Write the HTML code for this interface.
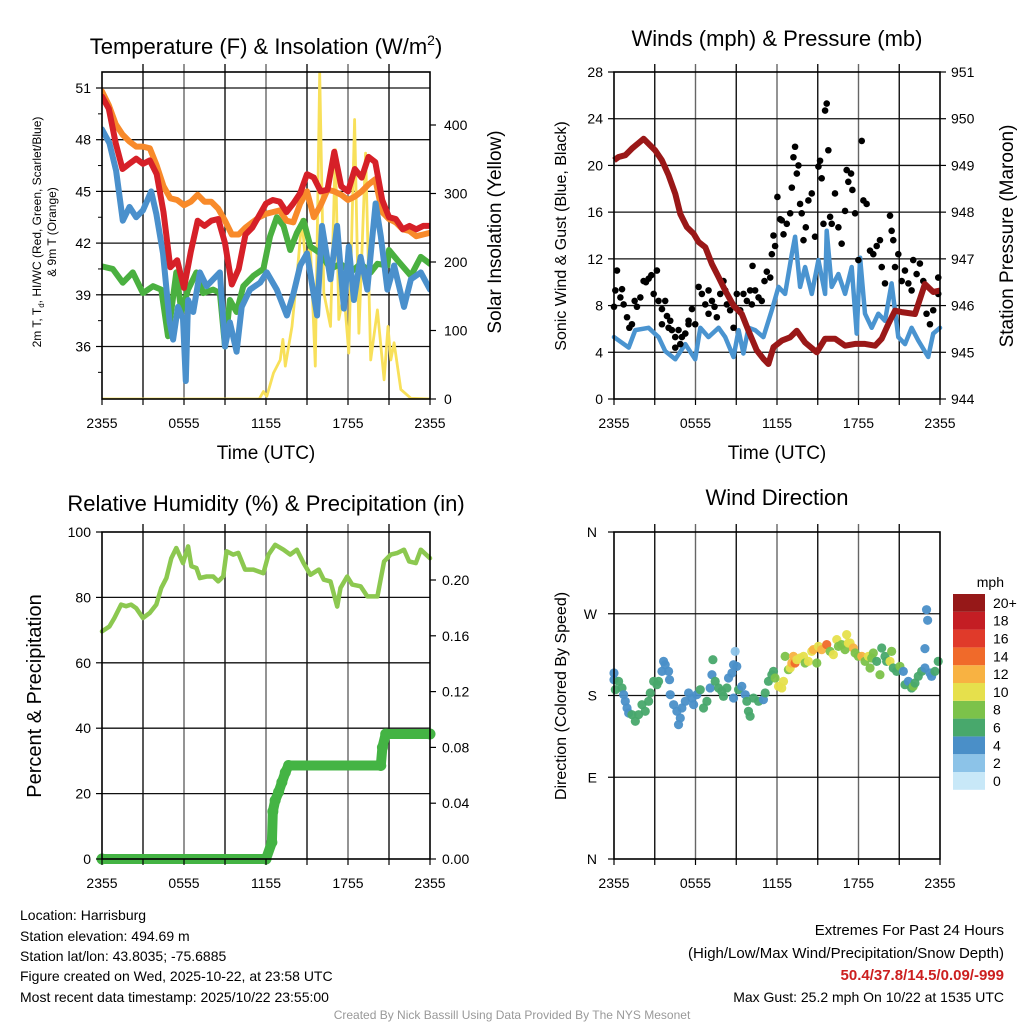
<!DOCTYPE html>
<html><head><meta charset="utf-8"><style>
html,body{margin:0;padding:0;background:#fff;}
svg{display:block;font-family:"Liberation Sans",sans-serif;}
</style></head><body>
<svg id="chart" width="1024" height="1024" viewBox="0 0 1024 1024" xmlns="http://www.w3.org/2000/svg">
<text x="266" y="54" font-size="22" text-anchor="middle">Temperature (F) &amp; Insolation (W/m<tspan font-size="14" dy="-9">2</tspan><tspan dy="9">)</tspan></text>
<text x="777" y="46" font-size="22" text-anchor="middle">Winds (mph) &amp; Pressure (mb)</text>
<text x="266" y="511" font-size="22" text-anchor="middle">Relative Humidity (%) &amp; Precipitation (in)</text>
<text x="777" y="505" font-size="22" text-anchor="middle">Wind Direction</text>

<text x="266" y="459" font-size="19" text-anchor="middle">Time (UTC)</text>
<text x="777" y="459" font-size="19" text-anchor="middle">Time (UTC)</text>

<text transform="translate(41,232) rotate(-90)" font-size="12" text-anchor="middle">2m T, T<tspan font-size="8" dy="3">d</tspan><tspan dy="-3">, HI/WC (Red, Green, Scarlet/Blue)</tspan></text>
<text transform="translate(56,232) rotate(-90)" font-size="12" text-anchor="middle">&amp; 9m T (Orange)</text>
<text transform="translate(501,232) rotate(-90)" font-size="19" text-anchor="middle">Solar Insolation (Yellow)</text>
<text transform="translate(566,236) rotate(-90)" font-size="16" text-anchor="middle">Sonic Wind &amp; Gust (Blue, Black)</text>
<text transform="translate(1013,236) rotate(-90)" font-size="19" text-anchor="middle">Station Pressure (Maroon)</text>
<text transform="translate(41,696) rotate(-90)" font-size="20" text-anchor="middle">Percent &amp; Precipitation</text>
<text transform="translate(566,696) rotate(-90)" font-size="16" text-anchor="middle">Direction (Colored By Speed)</text>
<text x="1004" y="587" font-size="14" text-anchor="end">mph</text>

<g font-size="14">
<text x="20" y="920">Location: Harrisburg</text>
<text x="20" y="941">Station elevation: 494.69 m</text>
<text x="20" y="961">Station lat/lon: 43.8035; -75.6885</text>
<text x="20" y="981">Figure created on Wed, 2025-10-22, at 23:58 UTC</text>
<text x="20" y="1002">Most recent data timestamp: 2025/10/22 23:55:00</text>
</g>
<g font-size="15" text-anchor="end">
<text x="1004" y="935">Extremes For Past 24 Hours</text>
<text x="1004" y="958">(High/Low/Max Wind/Precipitation/Snow Depth)</text>
<text x="1004" y="980" fill="#cc1f1f" font-weight="bold">50.4/37.8/14.5/0.09/-999</text>
<text x="1004" y="1002" font-size="14">Max Gust: 25.2 mph On 10/22 at 1535 UTC</text>
</g>
<text x="512" y="1019" font-size="12" fill="#999" text-anchor="middle">Created By Nick Bassill Using Data Provided By The NYS Mesonet</text>
<g id="plots"></g>
</svg>
<script>
// ---- Temperature panel data (hours since 2355 UTC) ----
const tHalf = [0,0.5,1,1.5,2,2.5,3,3.5,4,4.5,5,5.5,6,6.5,7,7.5,8,8.5,9,9.5,10,10.5,11,11.5,12,12.5,13,13.5,14,14.5,15,15.5,16,16.5,17,17.5,18,18.5,19,19.5,20,20.5,21,21.5,22,22.5,23,23.5,24];
const tempRed = [50.5,49.8,47.8,46.3,46.6,46.9,46.6,46.8,46.0,43.8,40.6,41.0,39.4,41.5,43.3,43.0,43.3,43.4,42.0,39.6,40.5,42.5,42.9,43.6,44.3,44.5,44.4,43.8,44.3,44.9,46.0,45.8,45.0,45.1,47.3,45.3,45.0,46.3,45.8,47.0,46.7,44.5,43.5,43.4,42.8,43.0,42.8,43.0,43.0];
const temp9m = [50.8,50.0,48.9,48.3,47.9,47.6,47.6,47.5,46.5,45.3,44.6,44.5,44.2,44.4,44.8,44.4,44.4,44.0,43.3,42.5,42.5,42.9,43.2,43.5,43.7,43.8,43.9,43.3,43.2,44.3,45.0,43.5,44.2,45.1,45.0,44.8,44.5,44.7,45.0,45.4,45.7,43.8,43.4,43.2,42.8,42.7,42.4,42.5,42.6];
const tBlue = [0,0.54,1.03,1.52,2.01,2.5,2.99,3.6,3.97,4.46,4.95,5.2,5.56,5.93,6.13,6.3,6.67,7.16,7.65,8.14,8.63,9.0,9.36,9.85,10.22,10.83,11.57,12.06,12.79,13.53,14.02,14.5,15.0,15.74,16.1,16.72,17.2,17.7,18.06,18.43,18.92,19.41,20.02,20.4,20.88,21.37,22.1,22.6,23.33,24];
const tempBlue = [48.6,47.8,46.2,43.3,44.1,43.5,43.9,45.0,43.7,41.4,37.4,36.4,38.3,37.6,34.0,38.7,38.0,40.3,39.5,39.9,40.3,36.0,37.4,35.7,38.3,39.3,39.7,40.3,39.3,37.8,39.1,40.7,41.4,37.8,43.0,39.9,43.0,38.2,41.8,38.7,41.2,39.3,44.3,42.4,39.3,40.7,38.3,39.9,40.3,39.3];
const tGreen = [0,0.78,1.52,2.25,2.99,3.73,4.34,4.83,5.44,5.81,6.3,6.91,7.4,8.14,8.63,9.0,9.36,9.85,10.34,11.08,11.81,12.3,12.79,13.28,13.77,14.26,14.75,15.25,15.98,16.72,17.45,18.19,18.92,19.66,20.15,20.88,21.0,21.62,22.6,23.33,24];
const tempGreen = [40.65,40.5,39.7,40.3,39.1,39.5,39.3,36.6,40.3,38.0,39.3,40.3,39.1,39.3,39.1,36.0,38.7,38.0,39.5,40.1,40.5,42.4,43.5,43.0,41.6,42.6,43.3,41.8,41.4,40.5,40.8,40.3,40.8,40.3,40.8,40.7,41.6,41.0,40.1,41.2,40.8];
const tSolar = [0,11.5,11.81,12.06,12.55,13.04,13.24,13.41,13.9,14.26,14.63,14.88,15.25,15.61,15.93,16.23,16.72,17.08,17.33,17.7,18.06,18.48,18.8,19.29,19.66,20.15,20.64,20.93,21.13,21.37,21.86,22.6,24];
const solar = [0,0,11,4,38,57,87,48,106,179,262,203,223,48,476,155,106,364,116,155,67,408,96,359,57,130,28,106,57,82,14,1,0];
const tempTicks = [36,39,42,45,48,51];
const solarTicks = [0,100,200,300,400];
const timeLabels = ["2355","0555","1155","1755","2355"];

// ---- Wind panel data ----
const tPres = [0,0.34,0.83,1.32,2.18,3.04,3.53,4.02,4.51,4.88,5.37,5.86,6.23,6.72,7.21,7.7,8.19,8.8,9.41,9.9,10.51,11.0,11.37,11.74,12.35,12.97,13.46,14.07,14.93,15.54,16.27,17.01,17.75,18.48,19.22,19.71,20.2,20.69,21.18,22.16,22.89,23.5,24];
const pressure = [949.11,949.18,949.22,949.36,949.57,949.32,949.11,948.79,948.39,947.96,947.68,947.54,947.36,947.25,946.89,946.61,946.32,946.0,945.82,945.46,945.04,944.86,944.75,945.11,945.25,945.32,945.46,945.21,945.0,945.29,945.29,945.14,945.18,945.18,945.14,945.29,945.61,945.89,945.86,945.82,946.46,946.29,946.32];
const tSonic = [0,1.08,1.57,2.55,3.28,3.77,4.51,5.25,5.98,6.35,6.96,7.7,8.19,8.8,9.17,9.53,9.9,10.39,11.0,11.62,12.11,12.6,13.09,13.33,13.7,14.07,14.56,15.05,15.54,15.66,16.03,16.52,17.01,17.5,17.87,18.12,18.48,18.97,19.46,19.95,20.44,20.93,21.42,21.91,22.4,23.13,23.5,24];
const sonic = [5.3,4.4,5.9,6.1,5.3,4.1,3.4,4.7,3.4,6.1,5.3,6.1,5.3,3.6,5.9,3.9,6.1,5.9,5.3,7.6,9.6,9.0,12.4,13.9,9.6,11.3,9.0,11.9,9.0,14.4,9.6,10.7,9.0,11.3,5.6,12.1,7.3,6.1,7.3,6.7,9.9,5.3,4.7,6.1,5.0,3.6,5.6,6.1];
const tGust = [0,0.1,0.22,0.47,0.59,0.71,0.96,1.13,1.32,1.52,1.69,1.94,2.18,2.35,2.55,2.75,2.92,3.16,3.28,3.53,3.77,3.9,4.02,4.26,4.51,4.75,5.0,5.25,5.49,5.74,5.98,6.23,6.47,6.72,6.96,7.21,7.4,7.57,7.82,8.06,8.31,8.55,8.8,9.04,9.29,9.53,9.78,10.02,10.2,10.39,10.64,10.88,11.08,11.25,11.5,11.62,11.74,11.86,12.03,12.23,12.35,12.48,12.72,12.97,13.09,13.21,13.33,13.46,13.58,13.7,13.82,13.95,14.12,14.31,14.56,14.8,15.05,15.17,15.29,15.42,15.54,15.66,15.78,15.91,16.03,16.27,16.52,16.76,17.01,17.13,17.25,17.45,17.55,17.75,17.99,18.24,18.36,18.6,18.85,19.09,19.34,19.58,19.71,19.95,20.32,20.44,20.56,20.69,20.93,21.18,21.42,21.67,21.91,22.03,22.28,22.52,22.77,23.01,23.26,23.5,23.87,23.87,10.15,8.19,6.96,4.51,4.88,5.49,4.14,3.53];
const gust = [7.9,9.3,11.0,8.7,9.4,8.1,7.0,6.1,6.4,8.4,7.9,8.7,10.1,10.0,10.3,10.6,9.0,11.0,8.4,7.7,8.4,7.1,6.1,5.9,5.3,5.9,5.3,5.6,6.7,7.7,6.4,9.6,9.0,8.1,9.3,8.4,7.9,7.0,9.0,10.1,8.1,7.6,6.1,9.0,7.6,9.0,8.4,9.3,11.4,9.3,8.7,8.4,10.1,10.9,10.4,12.4,14.0,13.1,17.3,15.4,15.3,14.1,15.0,15.9,18.1,20.7,21.6,19.3,20.0,16.7,15.9,13.6,14.7,17.0,17.6,13.9,19.9,20.4,18.9,15.0,24.7,25.3,21.3,15.6,15.0,17.6,14.7,13.3,16.1,19.6,18.6,19.3,17.9,15.9,11.9,22.1,17.0,16.7,12.7,12.4,13.1,13.6,11.3,9.9,15.7,14.4,13.6,11.3,12.4,10.1,11.0,9.9,9.3,11.9,10.7,11.6,10.1,7.3,6.4,7.6,10.4,9.0,8.1,9.3,7.3,4.4,4.7,6.4,6.7,6.4];
const windTicks = [0,4,8,12,16,20,24,28];
const presTicks = [944,945,946,947,948,949,950,951];

// ---- RH / precip panel data ----
const tRH = [0,0.54,0.91,1.4,1.76,2.13,2.5,2.99,3.48,3.97,4.34,4.71,5.07,5.44,5.93,6.3,6.54,6.91,7.16,7.65,8.14,8.5,8.87,9.12,9.6,9.97,10.47,11.08,11.81,12.18,12.67,13.28,13.77,14.26,14.75,15.25,15.86,16.23,16.72,17.21,17.45,17.94,18.31,18.92,19.41,20.15,20.64,21.13,21.62,22.1,22.47,22.96,23.33,24];
const rh = [69.6,71.1,73.7,77.8,77.3,77.8,76.7,73.7,75.2,77.8,82.9,85.9,92.0,95.1,90.5,95.6,89.5,89.0,85.9,86.4,86.4,84.9,86.4,94.1,93.1,93.6,88.5,88.5,87.4,93.1,96.1,94.6,93.1,94.6,90.5,86.9,88.5,85.4,84.9,77.2,82.9,86.4,83.9,83.4,80.3,80.3,91.0,93.1,93.6,94.6,91.0,90.5,94.6,92.0];
const tPrecip = [0,12.0,12.43,12.5,12.67,12.92,13.16,13.41,13.65,20.4,20.52,20.76,24];
const precip = [0,0,0.012,0.034,0.042,0.048,0.055,0.062,0.067,0.067,0.080,0.0896,0.0896];
const rhTicks = [0,20,40,60,80,100];
const precipTicks = ["0.00","0.04","0.08","0.12","0.16","0.20"];

// ---- Wind direction panel data ----
const tDir = [0,0,0.1,0.34,0.59,0.71,0.83,0.96,1.08,1.32,1.57,1.81,2.06,2.3,2.55,2.67,2.92,3.16,3.28,3.53,3.65,3.77,4.02,4.09,4.14,4.39,4.63,4.75,4.88,5.0,5.25,5.49,5.74,5.86,6.1,6.35,6.59,6.84,7.08,7.21,7.28,7.45,7.7,7.94,8.06,8.31,8.43,8.68,8.8,8.92,9.04,8.8,9.17,9.41,9.66,9.78,9.9,10.02,10.27,10.64,11.0,11.13,11.37,11.62,11.74,11.86,12.11,12.35,12.48,12.6,12.84,12.97,13.09,13.21,13.33,13.46,13.7,13.95,14.07,14.31,14.56,14.68,14.93,15.05,15.29,15.66,15.91,16.15,16.4,16.52,16.76,17.01,17.13,17.25,17.38,17.62,17.75,17.99,18.24,18.48,18.73,18.85,18.97,19.09,19.34,19.58,19.71,19.95,20.07,20.32,20.44,20.56,20.81,21.05,21.3,21.42,21.67,21.91,22.03,22.16,22.4,22.65,22.89,23.01,23.09,22.89,23.26,23.38,23.63,23.87];
const dirDeg = [204.8,197.4,186.4,195.6,188.3,180.9,173.6,166.2,160.7,158.9,151.6,158.9,169.9,162.6,173.6,182.8,195.6,191.9,195.6,206.6,217.6,213.9,206.6,197.4,180.9,169.9,162.6,147.9,155.2,166.2,173.6,182.8,177.2,169.9,180.9,186.4,166.2,173.6,188.3,202.9,219.4,195.6,188.3,184.6,179.1,188.3,199.3,204.8,213.9,228.6,212.1,177.2,186.4,190.1,180.9,173.6,162.6,157.1,177.2,173.6,175.4,182.8,195.6,202.9,206.6,199.3,190.1,188.3,195.6,223.1,208.4,210.3,215.8,223.1,215.8,219.4,221.3,223.1,215.8,217.6,228.6,230.5,215.8,234.1,230.5,236.0,228.6,225.0,241.5,234.1,236.0,230.5,247.0,237.8,237.8,232.3,226.8,223.1,223.1,217.6,223.1,210.3,221.3,226.8,217.6,202.9,232.3,223.1,217.6,217.6,228.6,210.3,206.6,212.1,206.6,191.9,195.6,188.3,190.1,193.8,201.1,206.6,210.3,274.5,262.8,231.6,204.8,201.1,206.6,217.6];
const dirSpeed = [4,4,6,6,6,4,4,4,4,6,6,6,6,6,6,6,6,6,6,4,4,4,4,4,4,4,4,4,4,4,4,4,4,4,4,6,6,6,4,4,6,6,6,6,6,6,4,4,4,2,4,4,6,4,4,6,6,6,6,6,4,6,6,6,6,8,10,10,10,8,8,10,12,12,14,10,10,10,8,10,10,12,8,10,12,14,8,10,10,8,8,8,10,10,10,12,8,8,12,8,10,8,8,8,6,8,6,6,6,10,8,6,6,8,4,6,4,6,8,6,6,6,4,4,4,4,4,4,6,6];
const dirLabels = ["N","E","S","W","N"];
const cbLabels = ["0","2","4","6","8","10","12","14","16","18","20+"];
const cbColors = ["#c8e8f8","#8cc3e8","#4a8fc8","#48a86c","#7cc24a","#e6e04c","#f8b242","#f06a2a","#e03a2a","#c41e24","#961818"];

const NS = "http://www.w3.org/2000/svg";
const root = document.getElementById("plots");
function mk(tag, attrs, parent) {
  const e = document.createElementNS(NS, tag);
  for (const k in attrs) e.setAttribute(k, attrs[k]);
  (parent || root).appendChild(e);
  return e;
}
function lin(d0, d1, r0, r1) { return v => r0 + (v - d0) * (r1 - r0) / (d1 - d0); }
function pts(ts, vs, fx, fy) { return ts.map((t, i) => fx(t).toFixed(1) + "," + fy(vs[i]).toFixed(1)).join(" "); }

function frame(x0, x1, y0, y1, gridYs, name) {
  const g = mk("g", {});
  
  
  const fx = lin(0, 24, x0, x1);
  for (let h = 3; h < 24; h += 3) {
    const l = mk("line", {x1: fx(h), x2: fx(h), y1: y0 - 8, y2: y1, stroke: (h % 6 === 0) ? "#666" : "#111", "stroke-width": 1.4}, g);
    
    
  }
  gridYs.forEach(y => {
    const l = mk("line", {x1: x0, x2: x1, y1: y, y2: y, stroke: "#111", "stroke-width": 1.3}, g);
    
    
  });
  return g;
}
function border(x0, x1, y0, y1, name) {
  const r = mk("rect", {x: x0, y: y0, width: x1 - x0, height: y1 - y0, fill: "none", stroke: "#000", "stroke-width": 1.6});
  
  
}
function xTicks(x0, x1, y1, name) {
  const fx = lin(0, 24, x0, x1);
  timeLabels.forEach((lab, i) => {
    const t = mk("text", {x: fx(i * 6), y: y1 + 29, "font-size": 14, "text-anchor": "middle"});
    t.textContent = lab;
    
    
  });
  for (let h = 0; h <= 24; h += 3) {
    mk("line", {x1: fx(h), x2: fx(h), y1: y1, y2: y1 + 6, stroke: "#000", "stroke-width": 1.2});
  }
}

// ===== Panel 1: Temperature =====
(function () {
  const x0 = 102, x1 = 430, y0 = 72, y1 = 399;
  const fx = lin(0, 24, x0, x1);
  const fy = lin(51, 48, 88, 139.7);
  const fs = lin(0, 400, 399, 125);
  frame(x0, x1, y0, y1, tempTicks.map(fy), "temp");
  const clip = mk("clipPath", {id: "c1"});
  mk("rect", {x: x0, y: 63, width: x1 - x0, height: y1 - 63}, clip);
  const g = mk("g", {"clip-path": "url(#c1)", fill: "none", "stroke-linejoin": "round", "stroke-linecap": "round"});
  const s1 = mk("polyline", {points: pts(tSolar, solar, fx, fs), stroke: "#f8e05a", "stroke-width": 2.8}, g);
  
  
  const s2 = mk("polyline", {points: pts(tGreen, tempGreen, fx, fy), stroke: "#4ab040", "stroke-width": 6}, g);
  
  
  const s3 = mk("polyline", {points: pts(tHalf, temp9m, fx, fy), stroke: "#f88a2a", "stroke-width": 6}, g);
  
  
  const s4 = mk("polyline", {points: pts(tBlue, tempBlue, fx, fy), stroke: "#4a90cc", "stroke-width": 6}, g);
  
  
  const s5 = mk("polyline", {points: pts(tHalf, tempRed, fx, fy), stroke: "#d62028", "stroke-width": 6}, g);
  
  
  border(x0, x1, y0, y1, "temp");
  tempTicks.forEach(v => {
    mk("line", {x1: x0 - 6, x2: x0, y1: fy(v), y2: fy(v), stroke: "#000", "stroke-width": 1.2});
    mk("line", {x1: x0 - 4, x2: x0, y1: fy(v - 1.5), y2: fy(v - 1.5), stroke: "#000", "stroke-width": 1});
    const t = mk("text", {x: x0 - 11, y: fy(v) + 5, "font-size": 14, "text-anchor": "end"});
    t.textContent = v;
    
    
  });
  solarTicks.forEach(v => {
    mk("line", {x1: x1, x2: x1 + 6, y1: fs(v), y2: fs(v), stroke: "#000", "stroke-width": 1.2});
    const t = mk("text", {x: x1 + 14, y: fs(v) + 5, "font-size": 14});
    t.textContent = v;
    
    
  });
  xTicks(x0, x1, y1, "temp");
})();

// ===== Panel 2: Winds =====
(function () {
  const x0 = 614, x1 = 940, y0 = 72, y1 = 399;
  const fx = lin(0, 24, x0, x1);
  const fy = lin(0, 28, y1, y0);
  const fp = lin(944, 951, y1, y0);
  frame(x0, x1, y0, y1, windTicks.slice(1, -1).map(fy), "wind");
  const g = mk("g", {fill: "none", "stroke-linejoin": "round", "stroke-linecap": "round"});
  const s1 = mk("polyline", {points: pts(tSonic, sonic, fx, fy), stroke: "#4a94d0", "stroke-width": 4.5}, g);
  
  
  const gg = mk("g", {fill: "#000"});
  
  
  tGust.forEach((t, i) => {
    const c = mk("circle", {cx: fx(t), cy: fy(gust[i]), r: 3.3}, gg);
    
    
  });
  const s2 = mk("polyline", {points: pts(tPres, pressure, fx, fp), stroke: "#9a1818", "stroke-width": 6, fill: "none", "stroke-linejoin": "round"});
  
  
  border(x0, x1, y0, y1, "wind");
  windTicks.forEach(v => {
    mk("line", {x1: x0 - 6, x2: x0, y1: fy(v), y2: fy(v), stroke: "#000", "stroke-width": 1.2});
    const t = mk("text", {x: x0 - 11, y: fy(v) + 5, "font-size": 14, "text-anchor": "end"});
    t.textContent = v;
    
    
  });
  presTicks.forEach(v => {
    mk("line", {x1: x1, x2: x1 + 6, y1: fp(v), y2: fp(v), stroke: "#000", "stroke-width": 1.2});
    const t = mk("text", {x: x1 + 11, y: fp(v) + 5, "font-size": 14});
    t.textContent = v;
    
    
  });
  xTicks(x0, x1, y1, "wind");
})();

// ===== Panel 3: RH & Precip =====
(function () {
  const x0 = 102, x1 = 430, y0 = 532, y1 = 859;
  const fx = lin(0, 24, x0, x1);
  const fy = lin(0, 100, y1, y0);
  const fp = lin(0, 0.2, y1, 580);
  frame(x0, x1, y0, y1, rhTicks.slice(1, -1).map(fy), "rh");
  const s1 = mk("polyline", {points: pts(tRH, rh, fx, fy), stroke: "#8cc850", "stroke-width": 4.5, fill: "none", "stroke-linejoin": "round", "stroke-linecap": "round"});
  
  
  const s2 = mk("polyline", {points: pts(tPrecip, precip, fx, fp), stroke: "#44b444", "stroke-width": 10, fill: "none", "stroke-linejoin": "round", "stroke-linecap": "round"});
  
  
  tPrecip.forEach((t, i) => {
    const c = mk("circle", {cx: fx(t), cy: fp(precip[i]), r: 5.5, fill: "#44b444"});
    
    
  });
  border(x0, x1, y0, y1, "rh");
  rhTicks.forEach(v => {
    mk("line", {x1: x0 - 6, x2: x0, y1: fy(v), y2: fy(v), stroke: "#000", "stroke-width": 1.2});
    const t = mk("text", {x: x0 - 11, y: fy(v) + 5, "font-size": 14, "text-anchor": "end"});
    t.textContent = v;
    
    
  });
  precipTicks.forEach(v => {
    const y = fp(parseFloat(v));
    mk("line", {x1: x1, x2: x1 + 6, y1: y, y2: y, stroke: "#000", "stroke-width": 1.2});
    const t = mk("text", {x: x1 + 12, y: y + 5, "font-size": 14});
    t.textContent = v;
    
    
  });
  xTicks(x0, x1, y1, "rh");
})();

// ===== Panel 4: Wind Direction =====
(function () {
  const x0 = 614, x1 = 940, y0 = 532, y1 = 859;
  const fx = lin(0, 24, x0, x1);
  const fy = lin(0, 360, y1, y0);
  frame(x0, x1, y0, y1, [90, 180, 270].map(fy), "dir");
  const g = mk("g", {});
  
  
  tDir.forEach((t, i) => {
    const idx = Math.min(10, Math.round(dirSpeed[i] / 2));
    const c = mk("circle", {cx: fx(t), cy: fy(dirDeg[i]), r: 4.6, fill: cbColors[idx], "fill-opacity": 0.95}, g);
    
    
  });
  border(x0, x1, y0, y1, "dir");
  dirLabels.forEach((lab, i) => {
    const y = fy(i * 90);
    mk("line", {x1: x0 - 6, x2: x0, y1: y, y2: y, stroke: "#000", "stroke-width": 1.2});
    const t = mk("text", {x: x0 - 17, y: y + 5, "font-size": 14, "text-anchor": "end"});
    t.textContent = lab;
    
    
  });
  xTicks(x0, x1, y1, "dir");
  // colorbar
  const cbTop = 594, cbH = 17.8;
  cbColors.forEach((col, i) => {
    const y = cbTop + (10 - i) * cbH;
    const r = mk("rect", {x: 953, y: y, width: 32, height: cbH, fill: col});
    
    
    const t = mk("text", {x: 993, y: y + cbH / 2 + 5, "font-size": 14});
    t.textContent = cbLabels[i];
    
    
  });
})();
</script>
</body></html>
